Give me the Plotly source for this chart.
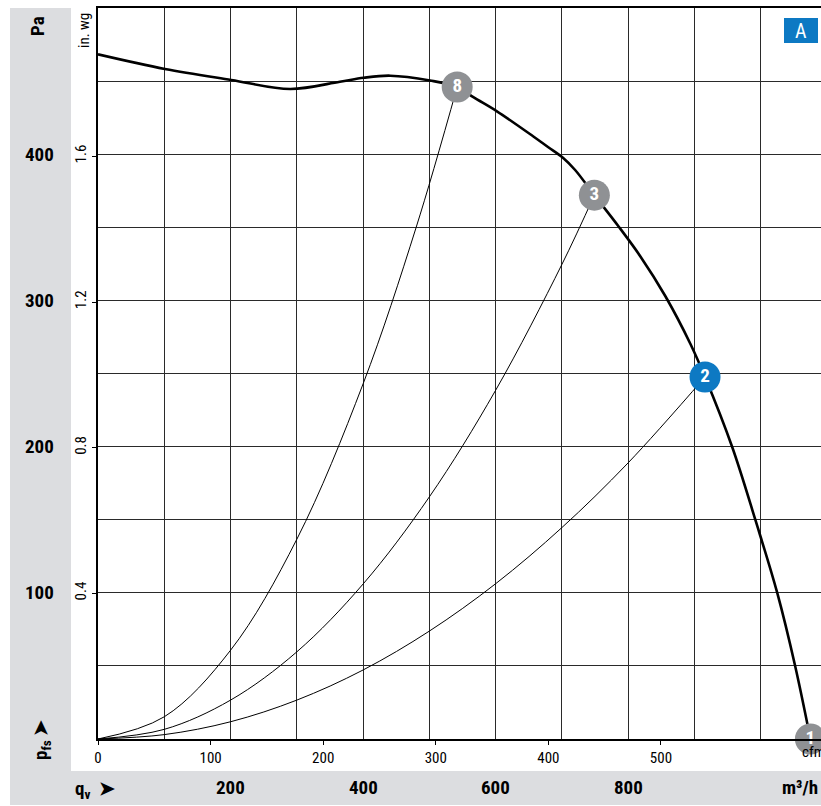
import plotly.graph_objects as go

# Fan curve (m³/h, Pa)
fan_q = [0, 101, 201, 290, 365, 401, 441, 501, 542, 567, 602, 657, 679, 702, 720, 749,
         785, 818, 856, 894, 916, 957, 992, 1025, 1052, 1075]
fan_p = [468.3, 458.3, 450.8, 444.6, 449.6, 452.3, 453.7, 450.4, 446, 438.8, 429.3,
         412.1, 404.9, 397.4, 389.2, 372, 350.9, 330.4, 303, 270.2, 247.6, 199.7, 149.8, 99.9, 49.9, 0]

# System resistance curves (m³/h, Pa)
sys8_q = [0, 100, 200, 300, 400, 480, 542]
sys8_p = [0, 15.2, 60.7, 136.6, 242.9, 349.8, 446]
sys3_q = [0, 100, 200, 300, 400, 500, 600, 700, 749]
sys3_p = [0, 6.6, 26.6, 59.6, 106, 165.6, 238.5, 324.6, 372]
sys2_q = [0, 100, 200, 300, 400, 500, 600, 700, 800, 916]
sys2_p = [0, 3.0, 11.8, 26.6, 47.2, 73.8, 106.2, 144.6, 188.9, 247.6]

# Operating points
op_q = [542, 749, 916, 1075]
op_p = [446, 372, 247.6, 0]
op_label = ["8", "3", "2", "1"]
op_color = ["#8f9194", "#8f9194", "#0d79c3", "#8f9194"]

# Axis ticks
pa_ticks = [100, 200, 300, 400]
inwg_ticks = [0.4, 0.8, 1.2, 1.6]
cfm_ticks = [0, 100, 200, 300, 400, 500]
m3h_ticks = [200, 400, 600, 800]

Q_MAX = 1091
P_MAX = 500
CFM_PER_M3H = 1 / 1.699
INWG_PER_PA = 1 / 249.089

W, H = 821, 806
ML, MR, MT, MB = 98, 0, 8, 67
PW, PH = W - ML - MR, H - MT - MB

def px(xp):
    return (xp - ML) / PW

def py(yp):
    return (H - MB - yp) / PH

FONT = "Liberation Sans Narrow, Roboto Condensed, Roboto, Arial, sans-serif"
GRAY = "#dcdde0"
BOLD = dict(family=FONT, size=19, color="black", weight="bold")

fig = go.Figure()

for q, p in [(sys8_q, sys8_p), (sys3_q, sys3_p), (sys2_q, sys2_p)]:
    fig.add_trace(go.Scatter(x=q, y=p, mode="lines", line=dict(color="black", width=1, shape="spline"),
                             hoverinfo="skip", showlegend=False))

fig.add_trace(go.Scatter(x=fan_q, y=fan_p, mode="lines",
                         line=dict(color="black", width=2.6, shape="spline", smoothing=1.0),
                         showlegend=False))

fig.add_trace(go.Scatter(x=op_q, y=op_p, mode="markers+text", text=op_label,
                         textposition="middle center",
                         textfont=dict(family=FONT, size=19, color="white", weight="bold"),
                         marker=dict(size=31, color=op_color, line=dict(width=0)),
                         cliponaxis=False, showlegend=False))

# invisible traces to activate secondary axes
fig.add_trace(go.Scatter(x=[0], y=[0], xaxis="x2", yaxis="y", mode="markers",
                         marker=dict(opacity=0), showlegend=False, hoverinfo="skip"))
fig.add_trace(go.Scatter(x=[0], y=[0], xaxis="x", yaxis="y2", mode="markers",
                         marker=dict(opacity=0), showlegend=False, hoverinfo="skip"))

shapes = [
    dict(type="rect", xref="paper", yref="paper", x0=px(10), x1=px(71), y0=py(805), y1=py(8),
         fillcolor=GRAY, line=dict(width=0), layer="below"),
    dict(type="rect", xref="paper", yref="paper", x0=px(10), x1=1.02, y0=py(805), y1=py(771),
         fillcolor=GRAY, line=dict(width=0), layer="below"),
    dict(type="rect", xref="paper", yref="paper", x0=px(784), x1=px(818), y0=py(43), y1=py(18),
         fillcolor="#0d79c3", line=dict(width=0)),
]

def note(x, y, text, font, xref="paper", yref="paper", **kw):
    d = dict(x=x, y=y, xref=xref, yref=yref, text=text, showarrow=False,
             xanchor="center", yanchor="middle", font=font)
    d.update(kw)
    return d

ann = []
for v in pa_ticks:
    ann.append(note(px(40), v, str(v), BOLD, yref="y"))
for v in m3h_ticks:
    ann.append(note(v, py(787), str(v), BOLD, xref="x"))
ann += [
    note(px(800), py(787), "m³/h", BOLD),
    note(px(95), py(789), "q<sub>v</sub>  ➤", BOLD),
    note(px(41), py(740), "p<sub>fs</sub> ➤", BOLD, textangle=-90),
    note(px(38), py(26), "Pa", BOLD, textangle=-90),
    note(px(84), py(31), "in. wg", dict(family=FONT, size=15, color="black"), textangle=-90),
    note(px(800), py(752), "cfm", dict(family=FONT, size=15, color="black"), xanchor="left"),
    note(px(801), py(30.5), "A", dict(family=FONT, size=20, color="white")),
]

fig.update_layout(
    width=W, height=H,
    margin=dict(l=ML, r=MR, t=MT, b=MB),
    paper_bgcolor="white", plot_bgcolor="white",
    font=dict(family=FONT, color="black"),
    shapes=shapes, annotations=ann,
    xaxis=dict(range=[0, Q_MAX], dtick=100, tick0=0, showgrid=True, gridcolor="#2a2a2a", gridwidth=1,
               showticklabels=False, ticks="", zeroline=False,
               showline=True, linecolor="black", linewidth=1.5, mirror=True),
    xaxis2=dict(range=[0, Q_MAX * CFM_PER_M3H], overlaying="x", side="bottom",
                tickvals=cfm_ticks, ticks="outside", ticklen=5, tickcolor="black",
                tickfont=dict(family=FONT, size=15, color="black"),
                showgrid=False, zeroline=False, showline=False),
    yaxis=dict(range=[0, P_MAX], dtick=50, tick0=0, showgrid=True, gridcolor="#2a2a2a", gridwidth=1,
               showticklabels=False, ticks="", zeroline=False,
               showline=True, linecolor="black", linewidth=1.5),
    yaxis2=dict(range=[0, P_MAX * INWG_PER_PA], overlaying="y", side="left",
                tickvals=inwg_ticks, ticktext=[str(v) for v in inwg_ticks],
                ticks="outside", ticklen=5, tickcolor="black", tickangle=-90,
                tickfont=dict(family=FONT, size=15, color="black"),
                showgrid=False, zeroline=False, showline=False),
)

fig.write_html("out.html")
